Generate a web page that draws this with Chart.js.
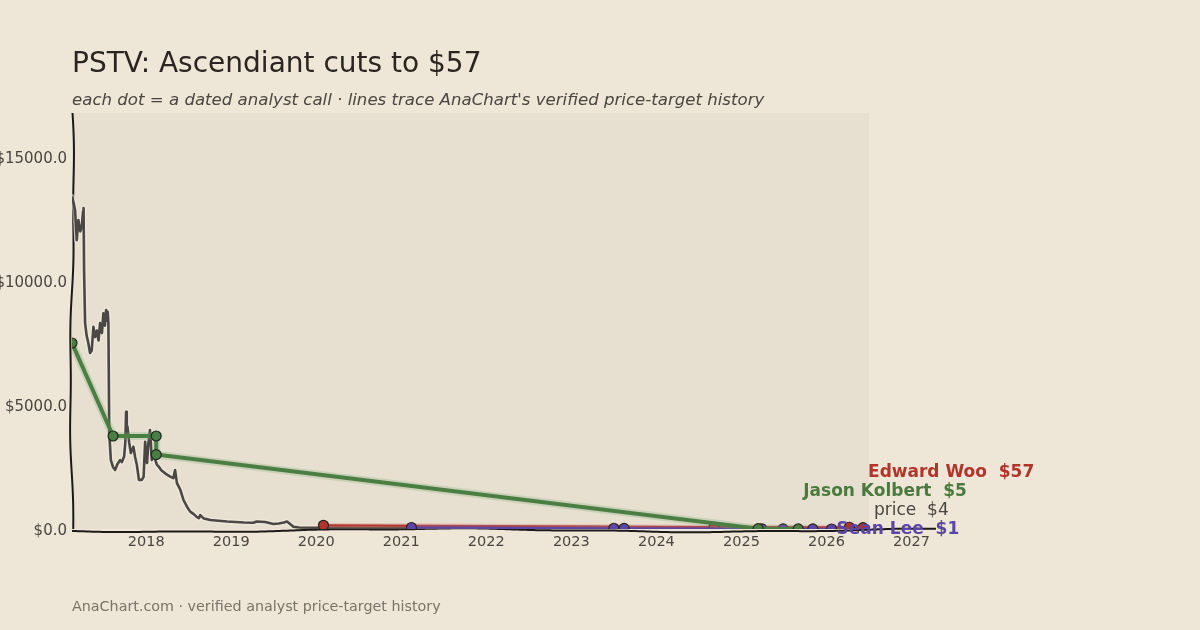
<!DOCTYPE html>
<html><head><meta charset="utf-8">
<script src="https://cdn.jsdelivr.net/npm/chart.js@4.4.1/dist/chart.umd.min.js"></script>
<style>
html,body{margin:0;padding:0;background:#EEE6D6;width:1200px;height:630px;overflow:hidden;}
#wrap{position:relative;width:1200px;height:630px;}
canvas{position:absolute;left:0;top:0;}
.t{position:absolute;left:72px;white-space:nowrap;font-family:'DejaVu Sans',sans-serif;}
#title{top:49px;font-size:28px;line-height:28px;color:#2a2520;}
#sub{top:91.5px;font-size:16.6px;line-height:16.6px;font-style:italic;color:#4a4540;}
#foot{top:599px;font-size:14.3px;line-height:14.3px;color:#7a7368;}
</style></head>
<body><div id="wrap">
<canvas id="c" width="1200" height="630"></canvas>
<div class="t" id="title">PSTV: Ascendiant cuts to $57</div>
<div class="t" id="sub">each dot = a dated analyst call · lines trace AnaChart's verified price-target history</div>
<div class="t" id="foot">AnaChart.com · verified analyst price-target history</div>
</div>
<script>
// ---- data (decimal years, USD) ----
const priceDates = [2017.128,2017.150,2017.164,2017.184,2017.203,2017.225,2017.243,2017.258,2017.264,2017.270,2017.282,2017.300,2017.320,2017.340,2017.360,2017.380,2017.399,2017.420,2017.440,2017.458,2017.480,2017.497,2017.515,2017.529,2017.540,2017.548,2017.556,2017.566,2017.585,2017.610,2017.635,2017.660,2017.694,2017.715,2017.741,2017.755,2017.764,2017.772,2017.780,2017.800,2017.820,2017.850,2017.870,2017.890,2017.915,2017.949,2017.970,2017.988,2018.010,2018.027,2018.045,2018.067,2018.085,2018.100,2018.115,2018.126,2018.150,2018.175,2018.204,2018.240,2018.283,2018.320,2018.340,2018.362,2018.400,2018.439,2018.480,2018.518,2018.560,2018.597,2018.620,2018.636,2018.680,2018.754,2018.850,2018.951,2019.050,2019.150,2019.260,2019.300,2019.400,2019.496,2019.560,2019.620,2019.657,2019.700,2019.731,2019.800,2020.000,2020.300,2020.600,2021.000,2021.400,2021.800,2022.200,2022.600,2023.000,2023.400,2023.800,2024.200,2024.600,2025.000,2025.400,2025.800,2026.200,2026.500];
const priceValues = [13400,13100,12860,11650,12460,12000,12190,12800,12940,10440,8300,7800,7500,7100,7200,8150,7740,8000,7600,8300,7900,8700,8200,8830,8400,8760,8300,3870,2780,2500,2380,2600,2780,2700,2920,3500,4730,3870,4130,3500,3060,3320,2900,2600,1980,1980,2100,3520,2660,3470,3990,2780,3060,2900,2700,2600,2510,2380,2300,2200,2110,2050,2380,1850,1600,1170,900,700,600,480,440,560,420,360,330,300,280,260,250,300,280,200,220,260,300,180,90,60,50,45,40,35,30,25,20,14,10,8,6,5,5,6,5,5,4,4];

const kolbertDates = [2017.128,2017.611,2018.118,2018.118,2025.197,2025.668];
const kolbertValues = [7500,3750,3750,3000,12,5];
const wooDates = [2020.085,2024.678,2026.270,2026.430];
const wooValues = [150,75,70,57];
const leeDates = [2021.120,2023.500,2023.620,2025.240,2025.490,2025.840,2026.060];
const leeValues = [60,30,25,8,5,3,1];

const xTickYears = [2018,2019,2020,2021,2022,2023,2024,2025,2026,2027];
const yTickValues = [0,5000,10000,15000];

const seriesLabels = [
  {name:'Edward Woo', dates:wooDates, values:wooValues, color:'#B0362B', bold:true},
  {name:'Jason Kolbert', dates:kolbertDates, values:kolbertValues, color:'#4A7A3E', bold:true},
  {name:'price', dates:priceDates, values:priceValues, color:'#4a4540', bold:false},
  {name:'Sean Lee', dates:leeDates, values:leeValues, color:'#5A46A6', bold:true}
];

const pts = (d,v) => d.map((x,i)=>({x:x,y:v[i]}));

const FONT = "'DejaVu Sans', sans-serif";

const decor = {
  id:'decor',
  beforeDatasetsDraw(chart){
    const {ctx, chartArea:a, scales:{x}} = chart;
    const shadeRight = x.getPixelForValue(priceDates[priceDates.length-1]);
    ctx.save();
    ctx.fillStyle = '#E7E0D1';
    ctx.fillRect(a.left, a.top, shadeRight - a.left, a.bottom - a.top);
    ctx.strokeStyle = '#1c1a18';
    ctx.lineWidth = 2;
    ctx.lineJoin = 'round';
    ctx.beginPath();
    for (let yy = a.top; yy <= a.bottom; yy += 2) {
      const t = (yy - a.top);
      const xx = a.left + 1.8*Math.sin(t/62 + 0.3) + 0.6*Math.sin(t/19);
      if (yy === a.top) ctx.moveTo(xx, yy); else ctx.lineTo(xx, yy);
    }
    ctx.stroke();
    ctx.beginPath();
    for (let xx = a.left; xx <= a.right; xx += 2) {
      const t = xx - a.left;
      const yy = a.bottom + 1.3 + 1.6*Math.sin(t/85 + 0.4) + 0.5*Math.sin(t/23);
      if (xx === a.left) ctx.moveTo(xx, yy); else ctx.lineTo(xx, yy);
    }
    ctx.stroke();
    ctx.restore();
  },
  afterDatasetsDraw(chart){
    const {ctx, scales:{x,y}} = chart;
    const items = seriesLabels.map(s=>{
      const n = s.dates.length-1;
      return {s, px: x.getPixelForValue(s.dates[n]) + 5, py: y.getPixelForValue(s.values[n]) + 1, v: s.values[n]};
    }).sort((p,q)=>p.v-q.v);
    let prev = null;
    items.forEach(it=>{
      let yy = it.py;
      if (prev !== null && yy > prev - 19) yy = prev - 19;
      prev = yy;
      ctx.save();
      ctx.font = (it.s.bold ? 'bold ' : '') + '17px ' + FONT;
      ctx.fillStyle = it.s.color;
      ctx.textAlign = 'left';
      ctx.textBaseline = 'middle';
      ctx.fillText(it.s.name + '  $' + Math.round(it.v), it.px, yy);
      ctx.restore();
    });
  }
};

const halo = (data, color, w, order) => ({data, order, borderColor:color, borderWidth:w, pointRadius:0, fill:false, tension:0, borderJoinStyle:'round', borderCapStyle:'round'});

new Chart(document.getElementById('c'), {
  type:'line',
  data:{datasets:[
    halo(pts(priceDates,priceValues),'rgba(245,240,230,0.5)',5.5, 8),
    {order:7, data:pts(priceDates,priceValues), borderColor:'#4a4744', borderWidth:2.6, pointRadius:0, tension:0, borderJoinStyle:'round'},
    halo(pts(wooDates,wooValues),'rgba(210,130,120,0.3)',5, 6),
    {order:5, data:pts(wooDates,wooValues), borderColor:'#B0362B', borderWidth:2.2, pointRadius:5, pointBackgroundColor:'#B0362B', pointBorderColor:'#2a2220', pointBorderWidth:1.2, tension:0},
    halo(pts(leeDates,leeValues),'rgba(150,130,210,0.25)',5, 4),
    {order:3, data:pts(leeDates,leeValues), borderColor:'#5A46A6', borderWidth:2.2, pointRadius:5, pointBackgroundColor:'#5A46A6', pointBorderColor:'#2a2220', pointBorderWidth:1.2, tension:0},
    halo(pts(kolbertDates,kolbertValues),'rgba(120,165,110,0.25)',8, 2),
    {order:1, data:pts(kolbertDates,kolbertValues), borderColor:'#4A7E42', borderWidth:4, pointRadius:5, pointBackgroundColor:'#4A7E42', pointBorderColor:'#22261f', pointBorderWidth:1.2, tension:0, borderJoinStyle:'round'}
  ]},
  options:{
    responsive:false, animation:false, devicePixelRatio:1,
    layout:{padding:{left:0, top:113, right:263, bottom:0}},
    plugins:{legend:{display:false}, tooltip:{enabled:false}, title:{display:false}},
    scales:{
      x:{type:'linear', min:2017.128, max:2027.3,
        grid:{display:false, drawTicks:false}, border:{display:false},
        afterBuildTicks(s){ s.ticks = xTickYears.map(v=>({value:v})); },
        afterFit(s){ s.height = 101; },
        ticks:{padding:5, color:'#4a4540', font:{family:FONT, size:14.5}, maxRotation:0, autoSkip:false, callback:v=>String(v)}},
      y:{type:'linear', min:0, max:16775,
        grid:{display:false, drawTicks:false}, border:{display:false},
        afterBuildTicks(s){ s.ticks = yTickValues.map(v=>({value:v})); },
        afterFit(s){ s.width = 72; },
        ticks:{padding:5, labelOffset:2, color:'#4a4540', font:{family:FONT, size:15}, callback:v=>'$'+Number(v).toFixed(1)}}
    }
  },
  plugins:[decor]
});
</script>
</body></html>
